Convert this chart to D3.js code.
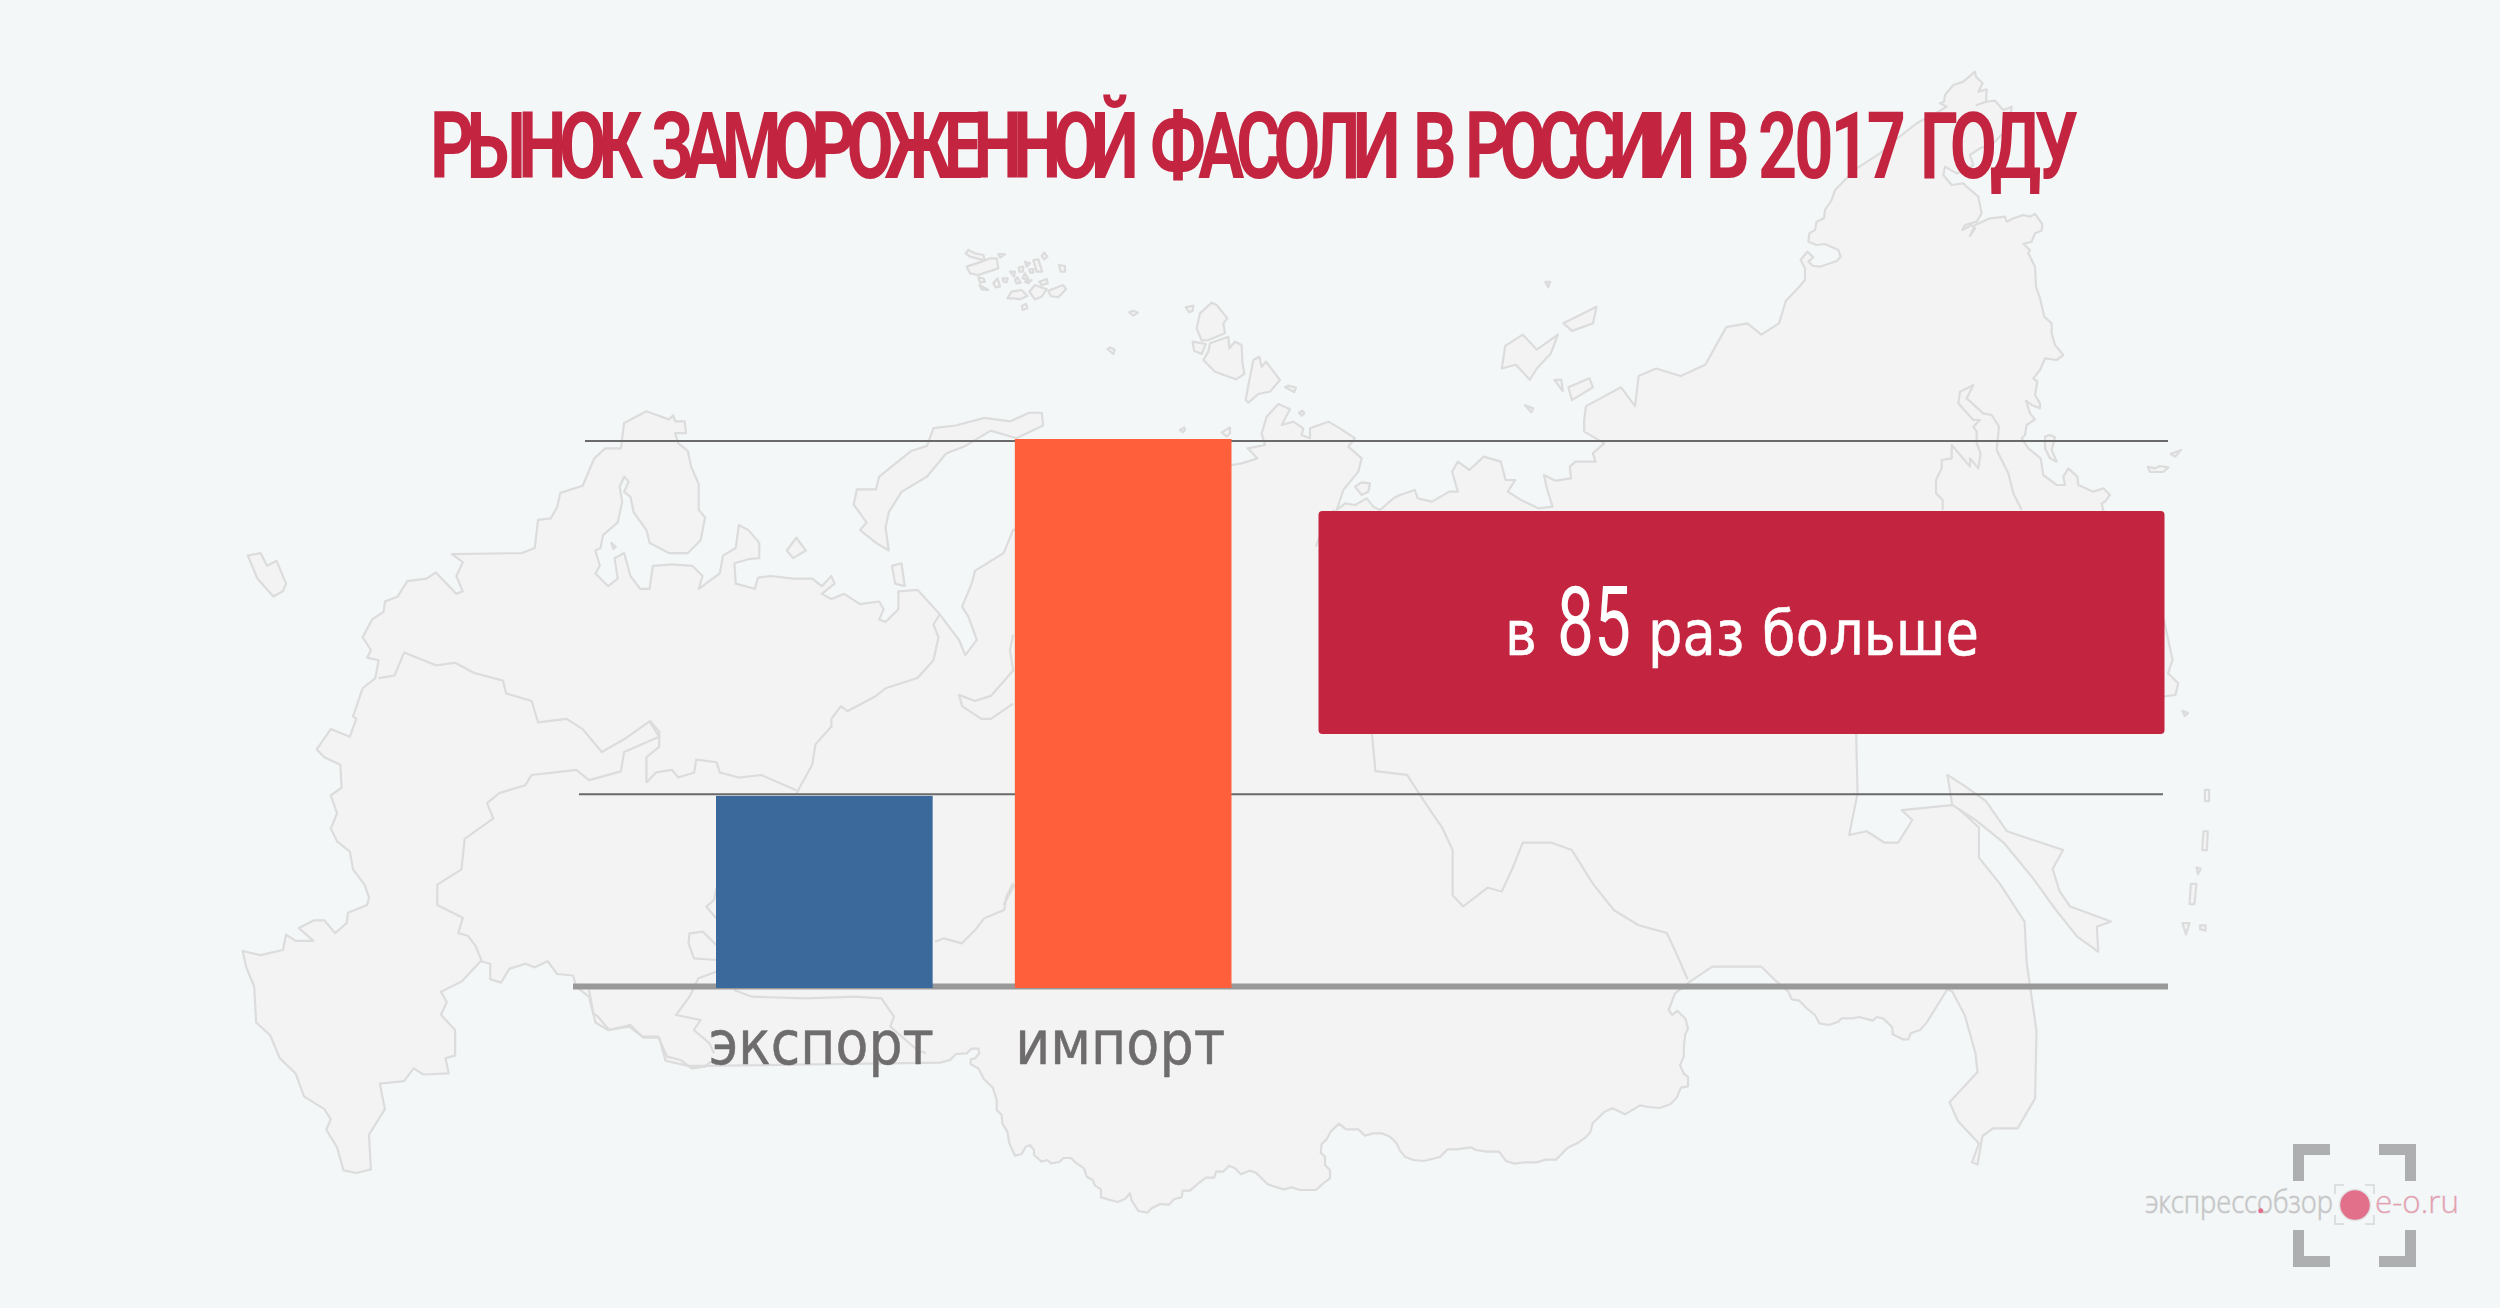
<!DOCTYPE html>
<html><head><meta charset="utf-8">
<script src="https://cdnjs.cloudflare.com/ajax/libs/d3/7.8.5/d3.min.js"></script>
<style>html,body{margin:0;padding:0;background:#f3f7f8}svg{display:block}</style>
</head><body><svg id="c" width="2500" height="1308"></svg>
<script>
// ---- chart data
const titleWords = ["РЫНОК", "ЗАМОРОЖЕННОЙ", "ФАСОЛИ", "В", "РОССИИ", "В", "2017", "ГОДУ"];
const categories = ["экспорт", "импорт"];
const barValues = [35, 100];          // drawn height, relative (the picture's bars are not to ratio)
const barColors = ["#3b699b", "#ff603b"];
const referenceLevels = [99.65, 35.3];
const calloutParts = ["в", "85", "раз больше"];
const logoLeft = "экспрессобзор", logoRight = "e-o.ru";

// ---- background map; each crop has its own origin and scale
const crop = (x0, y0, sx, sy) => a => a.map(p => [x0 + p[0] / sx, y0 + p[1] / sy]);
const z3 = crop(560,760,2.24,3), z4 = crop(1300,420,1.742,3), z5 = crop(200,400,1.568,1.96),
      z6 = crop(1200,60,1.425,1.329), z7 = crop(900,220,3,3), z8 = crop(940,980,3,3),
      z9 = crop(1400,980,3,3), z10 = crop(1800,60,3,3);

const coastNorth = [].concat(
 z5([[67,1080],[95,1088],[130,1078],[135,1048],[150,1060],[178,1060],[155,1035],[178,1020],[195,1020],[212,1045],[230,1025],[232,1005],[262,990],[265,975],[258,950],[240,920],[235,885],[215,865],[205,840],[215,810],[205,775],[222,760],[220,715],[195,700],[183,685],[205,645],[235,660],[245,625],[240,620],[255,565],[275,545],[280,510],[262,505],[268,490],[255,465],[270,430],[288,415],[290,395],[310,385],[325,355],[355,350],[370,338],[402,380],[412,375],[402,345],[412,318],[395,302],[505,300],[525,290],[530,235],[550,232],[560,210],[565,182],[600,168],[618,115],[635,95],[660,95],[665,45],[700,22],[735,38],[742,30],[745,42],[760,42],[762,65],[745,65],[750,85],[765,100],[770,130],[782,165],[782,215],[792,230],[785,275],[765,300],[735,300],[705,280],[700,255],[680,220],[675,190],[665,180],[672,160],[665,150],[658,170],[662,200],[655,240],[632,265],[628,290],[620,295],[627,325],[620,340],[640,365],[655,350],[650,310],[665,300],[675,345],[690,370],[705,370],[710,325],[740,322],[772,325],[788,345],[782,370],[815,340],[820,305],[840,290],[845,245],[860,255],[877,280],[877,310],[860,312],[838,320],[840,360],[870,370],[875,348],[895,345],[930,350],[960,350],[975,365],[990,345],[995,360],[975,380],[990,390],[1010,380],[1035,400],[1065,395],[1072,410],[1065,430],[1075,435],[1095,410],[1095,375],[1125,372],[1160,420],[1190,470],[1200,500],[1218,470],[1205,425],[1195,405],[1210,360],[1215,335],[1260,300],[1275,255]]),
 z7([[995,735],[1025,730],[1072,715],[1043,685],[1095,675],[1085,640],[1100,590],[1135,552],[1170,568],[1145,615],[1180,605],[1210,625],[1205,645],[1230,655],[1230,625],[1285,605],[1320,625],[1365,655],[1345,680],[1385,715],[1375,755],[1330,810],[1310,870],[1335,850],[1365,855],[1400,835],[1420,860],[1440,870],[1480,835],[1500,825]]),
 z4([[200,210],[205,235],[230,245],[260,215],[275,215],[265,155],[275,125],[295,150],[320,110],[350,125],[358,180],[375,180],[362,215],[385,240],[415,265],[440,260],[430,205],[425,165],[445,182],[472,175],[470,140],[480,125],[515,125],[510,100],[530,70],[510,50],[495,35],[495,0]]),
 z6([[550,460],[600,435],[620,460],[625,420],[650,410],[685,420],[720,405],[750,355],[780,350],[800,365],[825,350],[835,320]]),
 z10([[0,678],[15,660],[15,625],[2,600],[22,575],[40,592],[25,605],[40,618],[60,620],[110,603],[122,590],[115,570],[75,552],[50,555],[25,545],[28,520],[45,510],[50,485],[72,475],[75,450],[95,420],[105,390],[140,355],[170,325],[240,280],[280,245],[305,225],[350,190],[415,155],[440,140],[420,130],[432,125],[435,105],[460,75],[490,65],[525,35],[528,50],[548,70],[535,95],[560,88],[558,125],[530,135],[560,125],[585,122],[610,150],[635,140],[628,200],[580,250],[540,265],[510,285],[520,315],[500,330],[470,340],[435,320],[430,345],[455,375],[490,370],[500,380],[535,410],[545,460],[530,485],[495,495],[487,510],[515,495],[525,505],[510,528],[525,495],[570,475],[615,470],[620,485],[640,475],[670,465],[690,470],[705,462],[727,492],[725,512],[705,520],[695,545],[670,552],[690,570],[685,580],[705,620],[708,680],[720,715],[733,770],[755,790],[755,820],[765,855],[790,885],[770,900],[735,895],[720,930],[700,955],[712,965],[705,1005],[720,1030],[720,1045],[695,1035],[678,1022],[690,1060],[705,1078],[680,1095],[675,1125],[665,1135],[685,1165],[722,1195],[730,1245],[770,1275],[795,1275],[790,1250],[805,1225],[832,1250],[835,1275],[880,1295],[910,1285],[930,1305],[915,1325],[905,1330],[910,1352]]),
 z4([[1505,600],[1520,720],[1512,760],[1530,790],[1525,825]]),
 z6([[935,895],[937,975],[925,1030],[950,1025],[975,1040],[995,1040],[1015,1010],[1000,997],[1075,990],[1110,1020],[1110,1060],[1140,1095],[1175,1145],[1178,1200],[1192,1290],[1190,1380],[1165,1420],[1130,1420],[1115,1430],[1108,1468],[1100,1465],[1110,1440],[1080,1410],[1068,1385],[1108,1345],[1105,1320],[1090,1270],[1072,1238]])
);
const coastSouth = [].concat(
 z5([[67,1080],[72,1110],[85,1150],[88,1220],[110,1245],[125,1290],[150,1320],[163,1365],[195,1390],[205,1410],[198,1430],[215,1465],[225,1510],[245,1515],[268,1508],[265,1440],[290,1390],[282,1340],[320,1335],[335,1310],[350,1322],[390,1320],[385,1290],[400,1285],[400,1235],[378,1205],[387,1180],[378,1160],[410,1140],[440,1100],[455,1105],[455,1135],[472,1142],[485,1115],[510,1105],[525,1112],[545,1100],[560,1125],[585,1128],[590,1150],[610,1170],[620,1220],[640,1235],[675,1225],[695,1250],[720,1250],[730,1295],[765,1305],[795,1305]]),
 z8([[0,248],[30,240],[48,222],[80,220],[95,206],[115,206],[118,220],[105,235],[92,238],[92,252],[115,265],[132,298],[158,322],[170,360],[170,390],[185,405],[187,430],[202,455],[208,490],[225,527],[245,522],[257,500],[270,495],[282,510],[282,525],[305,545],[322,540],[333,550],[358,546],[370,534],[393,534],[407,548],[432,565],[440,590],[458,600],[465,617],[483,628],[483,652],[532,666],[555,657],[570,640],[575,662],[595,693],[622,698],[635,685],[660,672],[687,674],[703,657],[725,652],[728,632],[750,632],[775,610],[798,593],[823,593],[828,575],[850,575],[867,557],[885,565],[903,583],[928,572],[948,578],[983,613],[1030,628],[1055,622],[1080,630],[1128,630],[1150,610],[1170,595],[1170,570],[1155,555],[1155,530],[1142,518],[1145,492],[1160,478],[1172,455],[1197,431],[1218,448],[1255,448],[1275,467],[1300,460],[1325,460],[1350,470],[1370,490],[1380,512]]),
 z9([[15,530],[40,540],[72,543],[120,531],[143,508],[170,508],[213,502],[228,510],[258,515],[297,515],[318,543],[343,551],[372,547],[410,547],[437,539],[468,539],[503,503],[535,488],[557,472],[571,457],[578,430],[613,396],[637,385],[675,403],[720,376],[745,381],[780,384],[812,372],[830,353],[843,323],[864,319],[864,290],[852,282],[840,256],[851,230],[852,195],[856,163],[864,147],[857,117],[832,92],[817,105],[806,90],[825,40],[870,5]]),
 z6([[730,1205],[800,1205]]),
 z9([[1130,5],[1165,35],[1175,58],[1198,62],[1220,85],[1245,105],[1258,130],[1287,135],[1315,125],[1325,115],[1358,115],[1378,111],[1418,122],[1430,111],[1450,116],[1477,142],[1478,163],[1508,178],[1525,178],[1532,160],[1560,150]]),
 z6([[1035,1280],[1065,1235]])
);
const landOutline = coastNorth.concat(coastSouth.slice(1).reverse());

const innerLines = [
 z5([[372,965],[372,950],[410,920],[415,860],[460,820],[450,790],[470,770],[510,755],[520,735],[590,725],[610,745],[660,728],[665,690],[720,660],[705,630],[665,665],[630,690],[600,645],[575,625],[530,632],[520,590],[480,575],[475,550],[430,535],[400,515],[370,520],[320,495],[305,540],[280,545]]),
 z5([[372,965],[372,990],[412,1015],[405,1045],[420,1050],[432,1070],[442,1100]]),
 z5([[1160,420],[1150,440],[1158,465],[1150,510],[1125,545],[1075,565],[1060,580],[1015,610],[1005,600],[990,625],[990,640],[965,675],[960,715],[940,760],[935,772]]),
 z5([[700,750],[700,700],[720,680],[720,650],[705,628]]),
 z5([[700,750],[715,730],[740,725],[750,740],[775,730],[778,705],[810,710],[815,730],[845,740],[880,735],[935,765]]),
 z5([[1275,460],[1270,490],[1275,530],[1240,580],[1215,590],[1190,578],[1195,600],[1225,625],[1240,625],[1275,595]]),
 z5([[1277,950],[1260,990]]),
 z3([[840,545],[860,535],[900,550],[930,510],[950,475],[995,450],[1000,410],[1015,370]]),
 z3([[350,385],[345,420],[328,440],[350,475]]),
 z3([[350,555],[320,515],[290,520],[288,550],[300,595],[350,600]]),
 z3([[350,635],[310,655],[290,710],[260,765],[315,780],[300,810],[335,850],[345,880]]),
 z3([[390,690],[430,710],[550,715],[660,710],[720,715],[748,770],[740,800],[800,870],[820,880]]),
 z3([[65,690],[75,760],[85,770],[110,810],[155,800],[185,830],[220,830],[240,890],[270,900],[295,925],[325,920],[338,905]]),
 z4([[60,270],[40,320],[28,380]]),
 z6([[245,895],[250,945],[295,950],[330,1000],[345,1020],[360,1050],[360,1110],[375,1125],[410,1100],[430,1105],[445,1075],[460,1040],[500,1040],[530,1050],[560,1095],[590,1130],[625,1150],[665,1160],[680,1190],[695,1222]]),
 z10([[428,1350],[428,1320],[408,1300],[408,1260],[425,1225],[425,1200],[455,1195],[455,1155],[485,1190],[510,1220],[510,1195],[535,1225],[542,1180],[530,1150],[530,1115],[520,1100],[540,1080],[520,1080],[475,1030],[480,995],[520,975],[500,1015],[550,1060],[575,1065],[597,1100],[590,1170],[625,1240],[640,1300],[665,1350]])
];
const islands = [
 z5([[75,305],[95,300],[105,325],[120,315],[135,360],[130,375],[115,385],[90,350]]),
 z5([[920,295],[935,270],[950,295],[930,310]]),
 z5([[1085,325],[1100,320],[1105,365],[1090,360]]),
 z5([[645,280],[652,288],[648,292]]),
 z5([[1320,25],[1322,50],[1280,75],[1240,60],[1200,90],[1170,105],[1140,150],[1100,180],[1080,220],[1075,250],[1080,295],[1060,280],[1035,255],[1045,240],[1025,205],[1030,175],[1060,175],[1065,150],[1100,115],[1115,100],[1140,90],[1150,55],[1185,50],[1230,35],[1270,42],[1300,25]]),
 z7([[197,100],[205,90],[225,100],[250,105],[255,122],[230,115],[210,110]]),
 z7([[295,102],[315,103],[300,113]]),
 z7([[200,140],[245,125],[270,115],[290,115],[295,145],[265,155],[235,165],[210,160]]),
 z7([[235,172],[250,175],[255,185],[240,188]]),
 z7([[238,195],[265,210],[245,208]]),
 z7([[280,190],[293,175],[300,200],[287,202]]),
 z7([[308,175],[323,175],[320,187],[310,185]]),
 z7([[330,155],[345,155],[342,170]]),
 z7([[345,180],[352,172],[362,188],[350,190]]),
 z7([[356,143],[370,140],[368,155],[358,155]]),
 z7([[375,125],[390,130],[380,140]]),
 z7([[388,148],[400,147],[400,158],[390,158]]),
 z7([[400,120],[415,118],[427,155],[410,155]]),
 z7([[425,108],[433,98],[442,110],[432,118]]),
 z7([[477,135],[495,138],[495,155],[482,155]]),
 z7([[375,160],[385,178],[368,175]]),
 z7([[375,185],[395,180],[385,190]]),
 z7([[418,185],[440,177],[443,190],[425,195]]),
 z7([[322,235],[335,215],[365,210],[382,228],[360,238],[340,235]]),
 z7([[388,215],[405,195],[440,208],[425,230],[405,238]]),
 z7([[445,212],[490,195],[498,208],[475,232],[452,228]]),
 z7([[365,258],[378,252],[382,265],[368,270]]),
 z7([[688,277],[700,272],[714,278],[700,287]]),
 z7([[622,387],[632,382],[644,390],[640,402]]),
 z7([[857,262],[880,257],[878,272],[868,277]]),
 z7([[878,365],[917,372],[905,402],[882,392]]),
 z7([[890,325],[900,280],[935,248],[950,255],[982,295],[970,310],[975,340],[925,360],[905,362]]),
 z7([[910,420],[925,395],[930,370],[985,350],[988,385],[1005,365],[1025,375],[1027,425],[1033,462],[1008,478],[980,468],[945,455]]),
 z7([[1037,540],[1050,470],[1060,420],[1078,410],[1085,440],[1098,425],[1140,480],[1110,515],[1075,522],[1045,548]]),
 z7([[1155,502],[1165,497],[1188,503],[1183,516]]),
 z7([[1197,578],[1207,572],[1213,580],[1205,587]]),
 z7([[840,630],[853,622],[855,630],[848,637]]),
 z7([[965,637],[990,622],[990,640],[980,650]]),
 z7([[1365,800],[1385,787],[1410,790],[1405,815],[1385,825]]),
 z6([[435,380],[460,365],[480,385],[510,365],[500,390],[480,410],[470,425],[450,405],[430,410]]),
 z6([[518,350],[565,328],[560,350],[530,360]]),
 z6([[505,425],[515,425],[517,440]]),
 z6([[525,435],[555,423],[560,435],[530,452]]),
 z6([[463,459],[475,463],[472,468]]),
 z6([[492,295],[499,295],[496,302]]),
 z6([[1400,865],[1408,868],[1403,872]]),
 z6([[1432,970],[1438,970],[1438,985],[1432,985]]),
 z6([[1430,1025],[1436,1025],[1435,1050],[1428,1050]]),
 z6([[1420,1073],[1426,1075],[1422,1082]]),
 z6([[1412,1095],[1420,1095],[1417,1122],[1410,1122]]),
 z6([[1400,1147],[1410,1147],[1405,1162]]),
 z6([[1425,1150],[1433,1150],[1433,1157],[1425,1155]]),
 z6([[1065,950],[1090,965],[1120,985],[1150,1025],[1230,1050],[1215,1075],[1225,1105],[1240,1125],[1298,1145],[1278,1152],[1280,1185],[1250,1165],[1220,1130],[1185,1085],[1145,1040],[1105,1010],[1072,990]]),
 z10([[735,1130],[750,1125],[765,1132],[755,1170],[770,1205],[750,1195],[735,1165]]),
 z10([[1043,1220],[1065,1225],[1080,1218],[1105,1222],[1090,1236],[1050,1236]]),
 z10([[1112,1182],[1143,1170],[1125,1190]])
];

// ---- scales
const y = d3.scaleLinear().domain([0, 100]).range([988, 439]);
const x = d3.scaleBand().domain(categories).range([716, 1231.5]).paddingInner(0.275).paddingOuter(0);

const svg = d3.select("#c");
svg.append("rect").attr("width", 2500).attr("height", 1308).attr("fill", "#f3f7f8");

// map
const line = d3.line();
const map = svg.append("g").attr("stroke", "#dcdcdc").attr("stroke-width", 2.2).attr("stroke-linejoin", "round");
map.append("path").attr("d", line(landOutline) + "Z").attr("fill", "#f3f3f3");
map.selectAll("path.inner").data(innerLines).join("path").attr("class", "inner").attr("d", line).attr("fill", "none");
map.selectAll("path.isl").data(islands).join("path").attr("class", "isl").attr("d", d => line(d) + "Z").attr("fill", "#f3f3f3");

// title: one text, horizontally condensed; letter-spacing fits each word to its place
const titleX0 = 430, titleScale = 0.74;
const wordLeft = [430, 651, 1150, 1413, 1465, 1706, 1758, 1920];
const wordWidth = [205, 479, 243, 35, 221, 35, 145, 152];
const title = svg.append("text")
  .attr("transform", `translate(${titleX0},177.5) scale(${titleScale},1)`)
  .attr("font-family", "Roboto, 'Liberation Sans'").attr("font-weight", 700).attr("font-size", 92.5)
  .attr("fill", "#c3243f");
titleWords.forEach((w, i) => {
  const t = title.append("tspan").text(w)
    .attr("x", (wordLeft[i] - titleX0) / titleScale).attr("y", 0);
  const natural = t.node().getComputedTextLength();
  t.attr("letter-spacing", (wordWidth[i] / titleScale - natural) / w.length);
  if (i < titleWords.length - 1) title.node().appendChild(document.createTextNode(" "));
});

// reference lines
const refExtents = [[585, 2168], [579, 2163]];
svg.selectAll("line.ref").data(referenceLevels).join("line").attr("class", "ref")
  .attr("x1", (d, i) => refExtents[i][0]).attr("x2", (d, i) => refExtents[i][1])
  .attr("y1", d => y(d)).attr("y2", d => y(d))
  .attr("stroke", "#6a6a6a").attr("stroke-width", 2);

// baseline
svg.append("line").attr("x1", 573).attr("x2", 2168).attr("y1", y(0) - 1.5).attr("y2", y(0) - 1.5)
  .attr("stroke", "#999999").attr("stroke-width", 6);

// bars
svg.selectAll("rect.bar").data(categories).join("rect").attr("class", "bar")
  .attr("x", d => x(d)).attr("width", x.bandwidth())
  .attr("y", (d, i) => y(barValues[i])).attr("height", (d, i) => y(0) - y(barValues[i]))
  .attr("fill", (d, i) => barColors[i]);

// category axis
const labelWidths = [225, 210], labelShift = [-3, -3];
const axis = svg.append("g").attr("transform", `translate(0,${y(0)})`)
  .call(d3.axisBottom(x).tickSize(0).tickPadding(32));
axis.select(".domain").remove();
axis.selectAll("text")
  .attr("font-family", "'DejaVu Sans'").attr("font-size", 61).attr("fill", "#6e6c6c")
  .attr("stroke", "#6e6c6c").attr("stroke-width", 0.5)
  .attr("dy", null).attr("y", 76)
  .attr("dx", (d, i) => labelShift[i])
  .attr("textLength", (d, i) => labelWidths[i]).attr("lengthAdjust", "spacingAndGlyphs");

// callout
svg.append("rect").attr("x", 1318.5).attr("y", 511).attr("width", 846).attr("height", 223)
  .attr("rx", 4).attr("fill", "#c3243f");
const calloutX = [1505, 1557, 1648], calloutW = [32, 74, 331];
svg.selectAll("text.callout").data(calloutParts).join("text").attr("class", "callout")
  .text(d => d).attr("x", (d, i) => calloutX[i]).attr("y", 654.5)
  .attr("textLength", (d, i) => calloutW[i]).attr("lengthAdjust", "spacingAndGlyphs")
  .attr("font-family", (d, i) => i === 1 ? "Roboto" : "'DejaVu Sans'")
  .attr("font-size", (d, i) => i === 1 ? 96 : 62)
  .attr("stroke", "#ffffff").attr("stroke-width", (d, i) => i === 1 ? 0 : 0.5)
  .attr("fill", "#ffffff");

// logo
const logo = svg.append("g");
const brackets = [[2293,1144,1,1],[2416,1144,-1,1],[2293,1267,1,-1],[2416,1267,-1,-1]];
logo.selectAll("path.big").data(brackets).join("path").attr("class", "big")
  .attr("d", d => { const [a,b,sx,sy] = d; return `M${a+sx*5.5},${b+sy*37}V${b+sy*5.5}H${a+sx*37}`; })
  .attr("fill", "none").attr("stroke", "#adafb0").attr("stroke-width", 11);
const smallBrackets = [[2334,1184,1,1],[2375,1184,-1,1],[2334,1225,1,-1],[2375,1225,-1,-1]];
logo.selectAll("path.small").data(smallBrackets).join("path").attr("class", "small")
  .attr("d", d => { const [a,b,sx,sy] = d; return `M${a+sx},${b+sy*10}V${b+sy}H${a+sx*10}`; })
  .attr("fill", "none").attr("stroke", "#dcdfe1").attr("stroke-width", 2);
logo.append("text").text(logoLeft).attr("x", 2145).attr("y", 1213)
  .attr("textLength", 188).attr("lengthAdjust", "spacingAndGlyphs")
  .attr("font-family", "'Open Sans'").attr("font-weight", 300).attr("font-size", 32)
  .attr("fill", "#c4c5c6").attr("stroke", "#dddddd").attr("stroke-width", 1.2).attr("paint-order", "stroke");
logo.append("circle").attr("cx", 2355).attr("cy", 1205).attr("r", 15.5)
  .attr("fill", "#e2708a").attr("stroke", "#e3e3e5").attr("stroke-width", 1.5);
logo.append("circle").attr("cx", 2260.7).attr("cy", 1210.7).attr("r", 2.5).attr("fill", "#e2708a");
logo.append("text").text(logoRight).attr("x", 2375).attr("y", 1213)
  .attr("textLength", 84).attr("lengthAdjust", "spacingAndGlyphs")
  .attr("font-family", "'Open Sans'").attr("font-weight", 300).attr("font-size", 32)
  .attr("fill", "#e59fb1").attr("stroke", "#e6e1e4").attr("stroke-width", 1).attr("paint-order", "stroke");
</script></body></html>
